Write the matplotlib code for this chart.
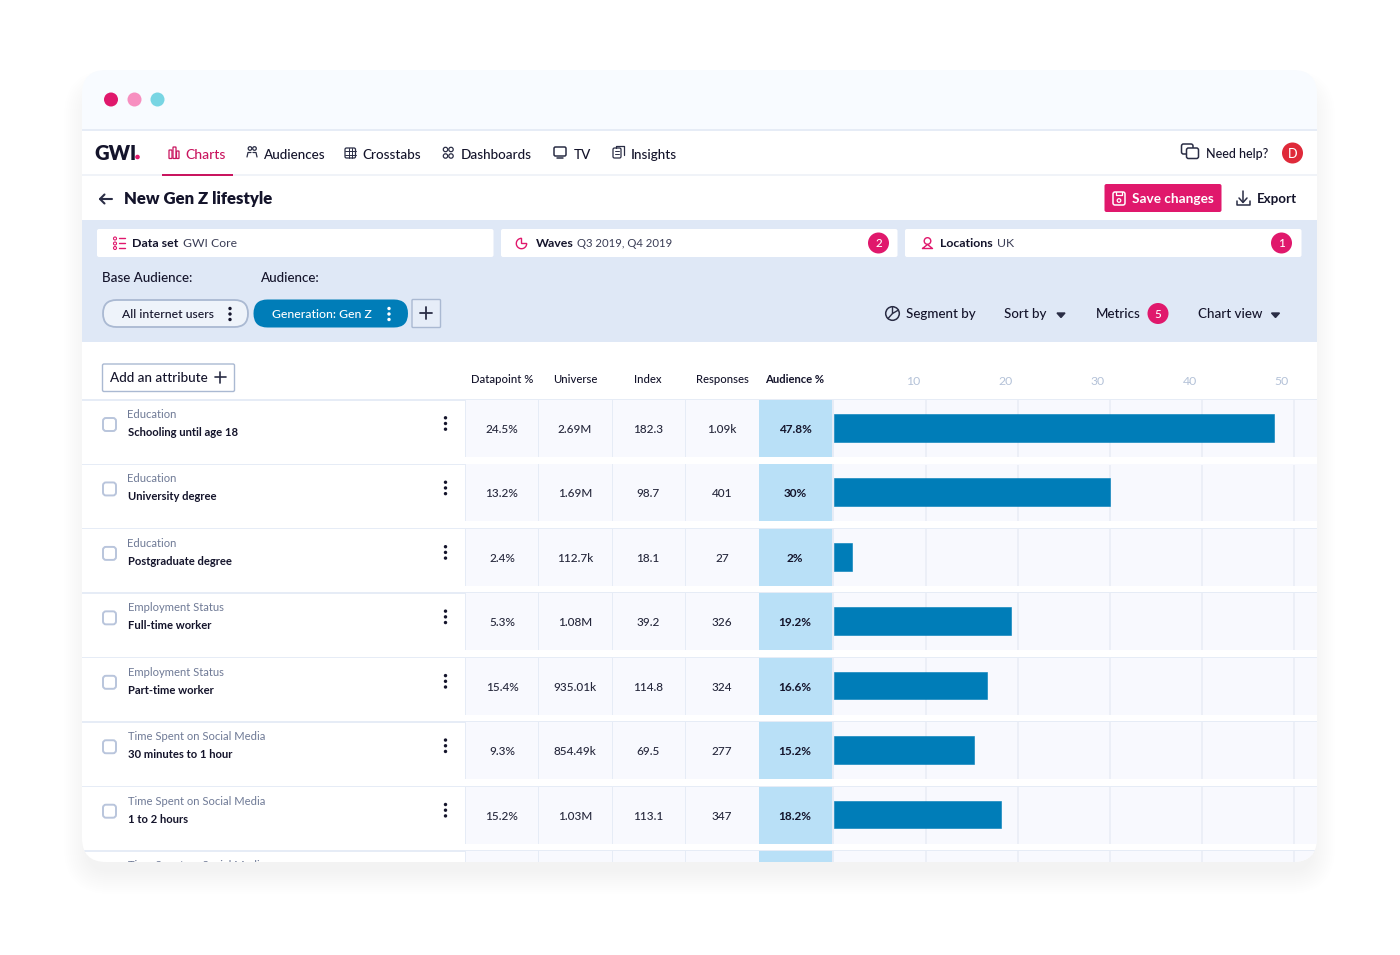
import matplotlib
matplotlib.use('Agg')
import matplotlib.pyplot as plt
from matplotlib.patches import FancyBboxPatch, Circle, Rectangle, Wedge
from matplotlib.transforms import Bbox, ScaledTranslation, TransformedBbox

plt.rcParams['font.family'] = ['Lato', 'DejaVu Sans']

# Datos de la tabla
categorias = ['Education', 'Education', 'Education', 'Employment Status', 'Employment Status',
              'Time Spent on Social Media', 'Time Spent on Social Media']
atributos = ['Schooling until age 18', 'University degree', 'Postgraduate degree', 'Full-time worker',
             'Part-time worker', '30 minutes to 1 hour', '1 to 2 hours']
datapoint = ['24.5%', '13.2%', '2.4%', '5.3%', '15.4%', '9.3%', '15.2%']
universe = ['2.69M', '1.69M', '112.7k', '1.08M', '935.01k', '854.49k', '1.03M']
index = ['182.3', '98.7', '18.1', '39.2', '114.8', '69.5', '113.1']
responses = ['1.09k', '401', '27', '326', '324', '277', '347']
audience = [47.8, 30, 2, 19.2, 16.6, 15.2, 18.2]
audience_txt = ['47.8%', '30%', '2%', '19.2%', '16.6%', '15.2%', '18.2%']
columnas = ['Datapoint %', 'Universe', 'Index', 'Responses', 'Audience %']
ticks = [10, 20, 30, 40, 50]
nav = ['Charts', 'Audiences', 'Crosstabs', 'Dashboards', 'TV', 'Insights']

ROSA = '#e0186c'
AZUL = '#007db8'
OSCURO = '#14142b'
GRIS = '#6f7a96'
BANDA = '#dfe8f6'
LINEA = '#e6ecf6'
FONDO = '#f8f9fe'
CELESTE = '#b9e0f7'
ICONO = '#2a2d45'

fig = plt.figure(figsize=(14, 9.55), dpi=100, facecolor='white')

# Sombra y ventana
fondo = fig.add_axes([0, 0, 1, 1])
fondo.set_xlim(0, 1400)
fondo.set_ylim(955, 0)
fondo.axis('off')
for i in range(12):
    e = 22 - 2 * i
    fondo.add_patch(FancyBboxPatch((86 - e, 92 - e), 1227 + 2 * e, 780 + 2 * e,
                                   boxstyle='round,pad=0,rounding_size=%d' % max(24 + e, 6),
                                   fc='#3a3a3a', ec='none', alpha=0.0045))

ax = fig.add_axes([0, 0, 1, 1])
ax.set_xlim(0, 1400)
ax.set_ylim(955, 0)
ax.axis('off')
ax.patch.set_alpha(0)

ventana = FancyBboxPatch((82, 70), 1235, 792, boxstyle='round,pad=0,rounding_size=24',
                         fc='white', ec='none', zorder=0)
ax.add_patch(ventana)


def rect(x0, y0, x1, y1, color, z=1):
    ax.add_patch(Rectangle((x0, y0), x1 - x0, y1 - y0, fc=color, ec='none', zorder=z))


def caja(x0, y0, x1, y1, r, fc='white', ec='none', lw=1.0, z=2):
    ax.add_patch(FancyBboxPatch((x0, y0), x1 - x0, y1 - y0, boxstyle='round,pad=0,rounding_size=%g' % r,
                                fc=fc, ec=ec, lw=lw, zorder=z))


def txt(x, y, s, size=9.6, color=OSCURO, weight='medium', ha='left', z=5):
    return ax.text(x, y - 0.7, s, fontsize=size, color=color, fontweight=weight, ha=ha,
                   va='center_baseline', zorder=z)


def linea(xs, ys, color=ICONO, lw=1.1, z=5):
    ax.plot(xs, ys, color=color, lw=lw, zorder=z, solid_capstyle='round', solid_joinstyle='round')


def aro(x, y, r, color=ICONO, lw=1.0, fc='none', z=5):
    ax.add_patch(Circle((x, y), r, fc=fc, ec=color, lw=lw, zorder=z))


def marco(x0, y0, x1, y1, r=1.5, color=ICONO, lw=1.0, z=5):
    caja(x0, y0, x1, y1, r, fc='none', ec=color, lw=lw, z=z)


def puntos(x, y, color=OSCURO, paso=5.5, r=1.7):
    for d in (-paso, 0, paso):
        ax.add_patch(Circle((x, y + d), r, fc=color, ec='none', zorder=6))


def badge(x, y, s, color=ROSA, r=10.5, size=8.4):
    ax.add_patch(Circle((x, y), r, fc=color, ec='none', zorder=4))
    txt(x, y + 0.5, s, size=size, color='white', ha='center')


def triangulo(x, y):
    ax.fill([x - 4, x + 4, x], [y - 2, y - 2, y + 2.5], color=ICONO, zorder=5)


# Barra superior con botones de ventana
rect(82, 70, 1317, 130, '#f8fbff')
rect(82, 129.5, 1317, 131, LINEA)
for x, c in zip([111, 134.5, 157.5], ['#e0186c', '#f78fc0', '#78d5e3']):
    ax.add_patch(Circle((x, 99.5), 7, fc=c, ec='none', zorder=3))

# Navegacion
rect(82, 174.5, 1317, 176, '#f0f3f8')
txt(94.5, 153, 'GWI', size=14.5, weight='heavy')
ax.add_patch(Circle((137.5, 157), 2.3, fc=ROSA, ec='none', zorder=5))
nav_x = [185, 264, 362, 461, 574, 631]
for i, (x, s) in enumerate(zip(nav_x, nav)):
    txt(x, 154.5, s, size=10 if i == 0 else 9.7, color='#c9155f' if i == 0 else OSCURO)
rect(162, 174.5, 233, 176, '#c9155f', z=3)

# iconos de navegacion
for x0, y0, x1 in [(169, 150, 172), (173, 147, 176), (176.5, 151, 179)]:
    marco(x0, y0, x1, 158.5, r=0.5, color='#c9155f', lw=0.9)
aro(250, 148.5, 1.8, lw=0.9)
aro(254.5, 148.5, 1.8, lw=0.9)
linea([247, 248, 251], [157, 152.5, 152.5], lw=0.9)
linea([253, 256, 257], [152.5, 152.5, 157], lw=0.9)
marco(345, 148, 355.5, 158, lw=0.9)
for d in (151.3, 154.6):
    linea([345, 355.5], [d, d], lw=0.7)
for d in (348.5, 352):
    linea([d, d], [148, 158], lw=0.7)
for cx in (445.5, 451):
    for cy in (149.5, 156):
        aro(cx, cy, 2.2, lw=0.9)
marco(554, 147, 566, 156, lw=1.1)
linea([557, 563], [158.5, 158.5], lw=1.1)
marco(613, 148, 621, 158, lw=0.9)
linea([615.5, 615.5, 623.5, 623.5], [148, 146, 146, 155], lw=0.9)
linea([615, 619], [151.5, 151.5], lw=0.7)
linea([615, 619], [154.5, 154.5], lw=0.7)

# Ayuda y usuario
marco(1181.5, 144, 1193, 154, r=2, lw=1.1)
caja(1186.5, 148, 1198.5, 158.5, 2, fc='white', ec=ICONO, lw=1.1, z=6)
for x in (1190, 1192.5, 1195):
    linea([x, x + 0.2], [153, 153], lw=1, z=7)
txt(1206, 154, 'Need help?', size=9)
badge(1292.5, 153, 'D', color='#df2a3a', r=10.5, size=9)

# Titulo
linea([112, 100], [199, 199], lw=1.5)
linea([104.5, 100, 104.5], [194.5, 199, 203.5], lw=1.5)
txt(124, 198.5, 'New Gen Z lifestyle', size=12.1, weight='heavy')
caja(1104.5, 184, 1221.5, 212, 2, fc=ROSA)
marco(1113, 192, 1125, 205, r=2, color='white', lw=1.1)
aro(1119, 200.5, 1.8, color='white', lw=0.9)
linea([1116, 1116, 1122, 1122], [192, 195, 195, 192], color='white', lw=0.9)
txt(1132, 198.5, 'Save changes', size=9.8, color='white', weight='bold')
linea([1243, 1243], [191, 202], lw=1.1)
linea([1239, 1243, 1247], [198, 202.5, 198], lw=1.1)
linea([1236.5, 1236.5, 1249.5, 1249.5], [201, 205, 205, 201], lw=1.1)
txt(1257, 198.5, 'Export', size=9.6, weight='bold')

# Banda de filtros
rect(82, 220, 1317, 342, BANDA)
for x0, x1 in [(97, 493.5), (501, 897.5), (905, 1301.5)]:
    caja(x0, 229, x1, 257, 2)
# icono lista
for y in (238.5, 243.5, 248):
    aro(115, y, 1.5, color=ROSA, lw=0.8)
    linea([119, 125], [y, y], color=ROSA, lw=1)
txt(132.5, 243.5, 'Data set', size=8.9, weight='bold')
txt(183, 243.5, 'GWI Core', size=8.7, color='#3a3d55', weight='normal')
# icono waves
ax.add_patch(Wedge((521.5, 243.5), 5.2, 0, 270, fc='none', ec=ROSA, lw=1, zorder=5))
linea([524.5, 524.7], [238.5, 238.5], color=ROSA, lw=1)
linea([527.5, 527.7], [240.5, 240.5], color=ROSA, lw=1)
txt(536, 243.5, 'Waves', size=8.9, weight='bold')
txt(577, 243.5, 'Q3 2019, Q4 2019', size=8.2, color='#3a3d55', weight='normal')
badge(878.5, 243, '2')
# icono pin
aro(927.5, 241, 3.3, color=ROSA, lw=1)
linea([922.5, 927.5, 932.5, 922.5], [248.5, 244.5, 248.5, 248.5], color=ROSA, lw=1)
txt(940, 243.5, 'Locations', size=8.9, weight='bold')
txt(997, 243.5, 'UK', size=8.9, color='#3a3d55', weight='normal')
badge(1281.5, 243, '1')

txt(102, 277.5, 'Base Audience:', size=9.6)
txt(260.5, 277.5, 'Audience:', size=9.6)
caja(103, 300, 248, 327, 13.5, fc='#eef3fa', ec='#aab9d2', lw=1.3)
txt(121.5, 314, 'All internet users', size=8.7)
puntos(230, 314, paso=5.5)
caja(253.5, 299.5, 408, 327.5, 14, fc=AZUL)
txt(272.5, 314, 'Generation: Gen Z', size=8.8, color='white')
puntos(389, 314, color='white', paso=5.5)
caja(412, 299.5, 440.5, 327.5, 1, fc='#e6edf8', ec='#aab9d2', lw=1)
linea([420, 432], [313.5, 313.5], lw=1.3)
linea([426, 426], [307.5, 319.5], lw=1.3)

# Controles de la derecha
aro(892.5, 313.5, 6.8, lw=1.1)
linea([892.5, 892.5, 898.5], [306.7, 313.5, 310], lw=1)
linea([892.5, 888], [313.5, 318.5], lw=1)
txt(906.5, 314, 'Segment by', size=9.6)
txt(1004.5, 314, 'Sort by', size=9.6)
triangulo(1061, 315)
txt(1096, 314, 'Metrics', size=9.6)
badge(1158, 313.5, '5')
txt(1197.5, 314, 'Chart view', size=9.6)
triangulo(1275.5, 315)

# Cabecera de la tabla
caja(102.5, 364, 234.5, 391.5, 1.5, fc='white', ec='#aab9d2', lw=1)
txt(110, 378, 'Add an attribute', size=9.7)
linea([214.5, 225.5], [377.5, 377.5], lw=1.2)
linea([220, 220], [372, 383], lw=1.2)

col_x = [502, 575, 648, 722, 795]
col_bordes = [(466, 538), (539, 611.5), (612.5, 685), (686, 758.5), (759, 832)]
for i, (x, s) in enumerate(zip(col_x, columnas)):
    txt(x, 379, s, size=8.1, ha='center', weight='bold' if i == 4 else 'medium')
rect(82, 399, 1317, 400.5, LINEA)

# Filas
ALTO = 64.45
for i in range(8):
    y0 = 400 + ALTO * i
    rect(465, y0, 833.5, y0 + 57, LINEA)
    for j, (a, b) in enumerate(col_bordes):
        rect(a, y0, b, y0 + 57, CELESTE if j == 4 else FONDO, z=1.5)
    rect(833.5, y0, 1317, y0 + 57, FONDO, z=1.5)
    rect(82, y0 + 63.5, 1317, y0 + 65, LINEA)

for i in range(7):
    yc = 428.5 + ALTO * i
    caja(103, yc - 10.5, 116, yc + 2.5, 3, fc='white', ec='#b9c5dc', lw=1.4)
    txt(127.5, yc - 14.5, categorias[i], size=8.1, color=GRIS, weight='normal')
    txt(127.5, yc + 3.5, atributos[i], size=8.1, weight='bold')
    puntos(445.5, yc - 5, paso=5.7)
    fila = [datapoint[i], universe[i], index[i], responses[i]]
    for x, s in zip(col_x, fila):
        txt(x, yc + 0.5, s, size=8.5, ha='center', color='#26283c')
    txt(col_x[4], yc + 0.5, audience_txt[i], size=8.5, ha='center', weight='bold')

for hijo in list(ax.patches) + list(ax.lines) + list(ax.collections):
    if hijo is not ventana:
        hijo.set_clip_path(ventana)

# fila cortada por la ventana; el texto solo admite recorte rectangular
corte = txt(127.5, 865.5, 'Time Spent on Social Media', size=8.1, color=GRIS, weight='normal')
corte.set_clip_on(True)
corte.set_clip_box(TransformedBbox(Bbox([[82, 400], [1317, 862]]), ax.transData))

# Grafico de barras: 0 en x=834 y 9.2 px por unidad
x_izq, x_der, y_sup, y_inf = 834, 1317, 400.5, 862
graf = fig.add_axes([x_izq / 1400, 1 - y_inf / 955, (x_der - x_izq) / 1400, (y_inf - y_sup) / 955])
graf.patch.set_alpha(0)
graf.set_xlim(0, (x_der - x_izq) / 9.2)
graf.set_ylim((y_inf - 427.8) / ALTO, (y_sup - 427.8) / ALTO)
for s in graf.spines.values():
    s.set_visible(False)
filas = list(range(len(audience)))
for f in range(8):
    graf.vlines(ticks, f - 0.43, f + 0.45, color='#e9edf6', lw=1.1, zorder=1)
graf.barh(filas, audience, height=0.43, color=AZUL, edgecolor=AZUL, lw=0.4, joinstyle='round', zorder=2)
graf.set_yticks([])
graf.set_xticks(ticks)
graf.set_xticklabels([str(t) for t in ticks], fontsize=8.8, color='#b4c2d8')
graf.xaxis.tick_top()
graf.tick_params(axis='x', length=0, pad=9.5)
for etiqueta in graf.get_xticklabels():
    etiqueta.set_transform(etiqueta.get_transform() + ScaledTranslation(-12.5 / 100, 0, fig.dpi_scale_trans))

fig.savefig('out.png', dpi=100)
